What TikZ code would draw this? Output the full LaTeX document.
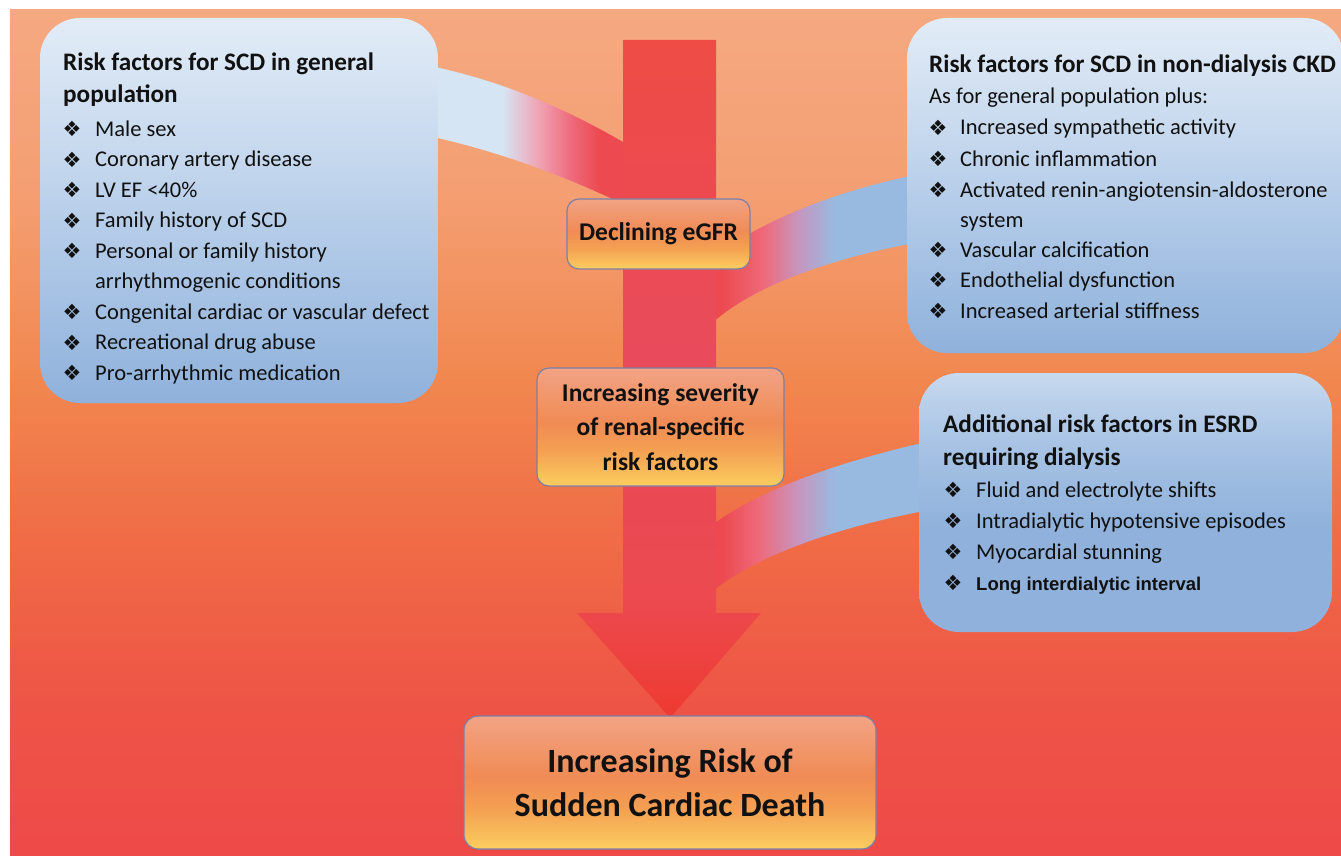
\documentclass[tikz,border=0pt]{standalone}
\usepackage{fontspec}
\setmainfont{Carlito}
\newfontfamily\bulletfont{DejaVu Sans}
\newfontfamily\arialfont{Liberation Sans}
\usepackage{tikz}
\usetikzlibrary{positioning}
\definecolor{textblack}{HTML}{111111}
\definecolor{boxedge}{HTML}{7C7FA6}
\definecolor{bgtop}{HTML}{F5A981}
\definecolor{bgone}{HTML}{F49E72}
\definecolor{bgtwo}{HTML}{F1874F}
\definecolor{bgthree}{HTML}{F06C46}
\definecolor{bgfour}{HTML}{EE5446}
\definecolor{bgbottom}{HTML}{EE4A48}
\definecolor{shafttop}{HTML}{EE4C45}
\definecolor{shaftmid}{HTML}{E94B5C}
\definecolor{shaftlow}{HTML}{EA4954}
\definecolor{shafttip}{HTML}{EE3A30}
\definecolor{shaftred}{HTML}{EC4A50}
\definecolor{bandlight}{HTML}{D6E5F4}
\definecolor{bandblue}{HTML}{98B9E0}
\definecolor{bandpink}{HTML}{F0A3B3}
\definecolor{bandrose}{HTML}{EE6A7C}
\definecolor{bandmauve}{HTML}{C597C0}
\definecolor{blueone}{HTML}{E2ECF7}
\definecolor{bluetwo}{HTML}{C7D9EE}
\definecolor{bluethree}{HTML}{A9C4E5}
\definecolor{bluefour}{HTML}{8FB1DB}
\definecolor{orangetop}{HTML}{F2A385}
\definecolor{orangemid}{HTML}{F08B55}
\definecolor{orangelow}{HTML}{F4A052}
\definecolor{orangebot}{HTML}{FBCE60}
\pgfdeclareverticalshading{bgfade}{100bp}{color(0bp)=(bgbottom); color(25bp)=(bgbottom); color(34bp)=(bgfour); color(44bp)=(bgthree); color(53bp)=(bgtwo); color(64bp)=(bgone); color(75bp)=(bgtop); color(100bp)=(bgtop)}
\pgfdeclareverticalshading{shaftfade}{100bp}{color(0bp)=(shafttip); color(25bp)=(shafttip); color(34bp)=(shaftred); color(41bp)=(shaftlow); color(52bp)=(shaftmid); color(63bp)=(shaftred); color(75bp)=(shafttop); color(100bp)=(shafttop)}
\pgfdeclarehorizontalshading{genband}{100bp}{color(0bp)=(bandlight); color(45bp)=(bandlight); color(53bp)=(bandpink); color(60bp)=(bandrose); color(66bp)=(shaftred); color(100bp)=(shaftred)}
\pgfdeclarehorizontalshading{ckdband}{100bp}{color(0bp)=(shaftred); color(29bp)=(shaftred); color(39bp)=(bandrose); color(47bp)=(bandmauve); color(55bp)=(bandblue); color(100bp)=(bandblue)}
\pgfdeclarehorizontalshading{esrdband}{100bp}{color(0bp)=(shaftred); color(29bp)=(shaftred); color(37bp)=(bandrose); color(46bp)=(bandmauve); color(54bp)=(bandblue); color(100bp)=(bandblue)}
\pgfdeclareverticalshading{boxblue}{100bp}{color(0bp)=(bluefour); color(25bp)=(bluefour); color(41bp)=(bluethree); color(58bp)=(bluetwo); color(75bp)=(blueone); color(100bp)=(blueone)}
\pgfdeclareverticalshading{boxbluedeep}{100bp}{color(0bp)=(bluefour); color(25bp)=(bluefour); color(45bp)=(bluefour); color(62bp)=(bluethree); color(75bp)=(bluetwo); color(100bp)=(bluetwo)}
\pgfdeclareverticalshading{boxorange}{100bp}{color(0bp)=(orangebot); color(25bp)=(orangebot); color(40bp)=(orangelow); color(52bp)=(orangemid); color(75bp)=(orangetop); color(100bp)=(orangetop)}
\tikzset{
  bluebox/.style={shade, shading=boxblue, rounded corners=40pt, inner sep=0pt},
  orangebox/.style={shade, shading=boxorange, draw=boxedge, line width=1.2pt, rounded corners=12pt, align=center, inner sep=0pt, text=textblack, font=\fontsize{25.5}{34.5}\selectfont\bfseries},
  itemtext/.style={anchor=base west, inner sep=0pt, text=textblack, font=\fontsize{22.5}{26}\selectfont},
  headtext/.style={itemtext, font=\fontsize{25.2}{28}\selectfont\bfseries},
  bulletmark/.style={inner sep=0pt, text=textblack, font=\bulletfont\fontsize{21}{24}\selectfont}
}
\begin{document}
\begin{tikzpicture}[x=1pt, y=-1pt]
  \useasboundingbox (0,0) rectangle (1341,856);
  \fill[white] (0,0) rectangle (1341,856);
  \shade[shading=bgfade] (10,10) rectangle (1341,856);
  % bands running into the arrow
  \shade[shading=genband] (410,62) .. controls (500,78) and (570,110) .. (640,152) -- (640,212) .. controls (570,178) and (500,150) .. (410,132) -- cycle;
  \shade[shading=ckdband] (920,174) .. controls (830,192) and (760,222) .. (705,262) -- (705,330) .. controls (745,288) and (830,258) .. (920,242) -- cycle;
  \shade[shading=esrdband] (930,441) .. controls (840,462) and (760,488) .. (705,530) -- (705,598) .. controls (745,560) and (830,528) .. (930,510) -- cycle;
  % main arrow
  \shade[shading=shaftfade] (623,40) -- (716,40) -- (716,613) -- (761,613) -- (670,718) -- (577,613) -- (623,613) -- cycle;
  % boxes
  \node[bluebox, minimum width=398pt, minimum height=385pt] (genbox) at (239,210.5) {};
  \node[bluebox, minimum width=437pt, minimum height=335pt] (ckdbox) at (1125.5,185.5) {};
  \node[bluebox, shading=boxbluedeep, minimum width=413pt, minimum height=259pt] (esrdbox) at (1125.5,502.5) {};
  \node[orangebox, minimum width=183pt, minimum height=70pt] (egfr) at (658.5,234) {Declining eGFR};
  \node[orangebox, minimum width=247pt, minimum height=118pt] (renal) at (660.5,427) {Increasing severity\\of renal-specific\\risk factors};
  \node[orangebox, rounded corners=14pt, minimum width=412pt, minimum height=133pt, font=\fontsize{34}{44}\selectfont\bfseries] (scd) at (670,782.5) {Increasing Risk of\\Sudden Cardiac Death};
  % general population
  \node[headtext] (genhead) at (63,71) {Risk factors for SCD in general};
  \node[headtext] (genhead2) at (63,103) {population};
  \foreach \y/\t [count=\i] in {136/Male sex, 166.5/Coronary artery disease, 197/LV EF <40\%, 227.5/Family history of SCD, 258/Personal or family history, 288.5/arrhythmogenic conditions, 319/Congenital cardiac or vascular defect, 349.5/Recreational drug abuse, 380/Pro-arrhythmic medication}
    \node[itemtext] (genitem\i) at (95,\y) {\t};
  \foreach \y [count=\i] in {136,166.5,197,227.5,258,319,349.5,380}
    \node[bulletmark] (genmark\i) at (72,\y-7) {❖};
  % non-dialysis CKD
  \node[headtext] (ckdhead) at (929,73) {Risk factors for SCD in non-dialysis CKD};
  \node[itemtext] (ckdplus) at (929,104) {As for general population plus:};
  \foreach \y/\t [count=\i] in {135/Increased sympathetic activity, 166/Chronic inflammation, 197/Activated renin-angiotensin-aldosterone, 227/system, 257/Vascular calcification, 287/Endothelial dysfunction, 318/Increased arterial stiffness}
    \node[itemtext] (ckditem\i) at (960,\y) {\t};
  \foreach \y [count=\i] in {135,166,197,257,287,318}
    \node[bulletmark] (ckdmark\i) at (938,\y-7) {❖};
  % dialysis
  \node[headtext] (esrdhead) at (943,432) {Additional risk factors in ESRD};
  \node[headtext] (esrdhead2) at (943,465) {requiring dialysis};
  \foreach \y/\t [count=\i] in {497/Fluid and electrolyte shifts, 528/Intradialytic hypotensive episodes, 559/Myocardial stunning}
    \node[itemtext] (esrditem\i) at (976,\y) {\t};
  \node[itemtext, font=\arialfont\bfseries\fontsize{18.5}{22}\selectfont] (esrditem4) at (976,590) {Long interdialytic interval};
  \foreach \y [count=\i] in {497,528,559,590}
    \node[bulletmark] (esrdmark\i) at (953,\y-7) {❖};
\end{tikzpicture}
\end{document}
